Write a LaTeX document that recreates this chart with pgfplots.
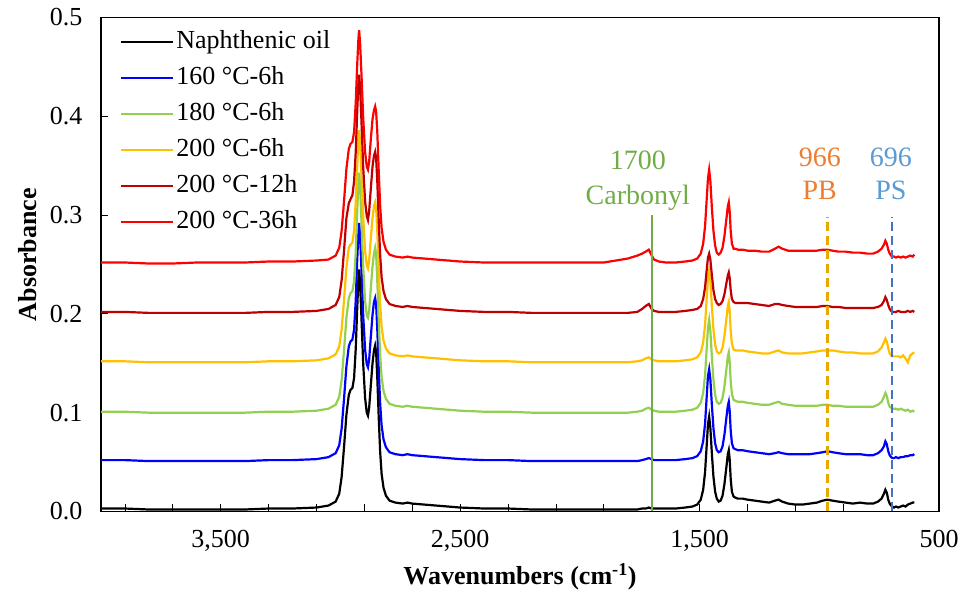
\documentclass[border=0pt]{standalone}
\usepackage{fontspec}
\setmainfont{Liberation Serif}
\usepackage{pgfplots}
\usepackage{pgfplotstable}
\pgfplotsset{compat=1.18}
\definecolor{cgreen}{HTML}{70AD47}
\definecolor{lgreen}{HTML}{92D050}
\definecolor{gold}{HTML}{FFC000}
\definecolor{dred}{HTML}{C00000}
\definecolor{pbline}{RGB}{232,168,0}
\definecolor{pbtext}{HTML}{ED7D31}
\definecolor{psline}{HTML}{4472C4}
\definecolor{pstext}{HTML}{5B9BD5}
\pgfplotstableread{
w k b g y d r
4000 0.003 0.052 0.101 0.152 0.202 0.252
3900 0.003 0.052 0.101 0.152 0.202 0.252
3800 0.002 0.051 0.100 0.151 0.201 0.251
3700 0.002 0.051 0.100 0.151 0.201 0.251
3600 0.002 0.051 0.100 0.151 0.201 0.252
3500 0.002 0.051 0.100 0.151 0.201 0.252
3400 0.002 0.051 0.100 0.151 0.201 0.252
3300 0.003 0.052 0.101 0.152 0.202 0.253
3200 0.003 0.052 0.101 0.152 0.202 0.253
3100 0.004 0.053 0.102 0.153 0.203 0.254
3050 0.006 0.055 0.104 0.155 0.205 0.255
3020 0.010 0.059 0.108 0.159 0.209 0.259
3005 0.018 0.067 0.116 0.167 0.217 0.267
2995 0.035 0.084 0.133 0.184 0.234 0.284
2985 0.065 0.114 0.163 0.214 0.264 0.314
2975 0.098 0.147 0.196 0.247 0.297 0.347
2965 0.118 0.167 0.216 0.267 0.312 0.367
2958 0.123 0.172 0.221 0.270 0.316 0.372
2950 0.125 0.174 0.223 0.272 0.320 0.374
2943 0.135 0.184 0.233 0.284 0.334 0.384
2936 0.165 0.214 0.263 0.314 0.364 0.414
2930 0.205 0.254 0.303 0.348 0.404 0.452
2925 0.235 0.282 0.333 0.378 0.434 0.478
2922 0.245 0.292 0.343 0.386 0.442 0.487
2918 0.232 0.280 0.330 0.374 0.430 0.475
2912 0.195 0.244 0.293 0.340 0.394 0.442
2905 0.150 0.199 0.248 0.299 0.349 0.399
2897 0.115 0.164 0.213 0.264 0.314 0.364
2890 0.100 0.149 0.198 0.249 0.299 0.349
2885 0.097 0.146 0.196 0.246 0.295 0.346
2880 0.105 0.154 0.203 0.254 0.304 0.354
2873 0.128 0.177 0.226 0.277 0.327 0.377
2866 0.150 0.199 0.248 0.297 0.349 0.397
2860 0.163 0.212 0.261 0.309 0.360 0.406
2855 0.168 0.216 0.267 0.313 0.364 0.410
2851 0.162 0.210 0.261 0.307 0.358 0.405
2846 0.135 0.184 0.233 0.284 0.334 0.384
2840 0.095 0.144 0.193 0.244 0.294 0.344
2834 0.060 0.109 0.158 0.209 0.259 0.309
2828 0.038 0.087 0.136 0.187 0.237 0.287
2820 0.024 0.073 0.122 0.173 0.223 0.273
2810 0.016 0.065 0.114 0.165 0.215 0.265
2795 0.011 0.060 0.109 0.160 0.210 0.260
2770 0.009 0.058 0.107 0.158 0.208 0.258
2740 0.008 0.057 0.106 0.157 0.207 0.257
2720 0.009 0.058 0.107 0.158 0.208 0.258
2700 0.008 0.057 0.106 0.157 0.207 0.257
2650 0.007 0.056 0.105 0.156 0.206 0.256
2600 0.006 0.055 0.104 0.155 0.205 0.255
2500 0.004 0.053 0.102 0.153 0.203 0.253
2400 0.003 0.052 0.101 0.152 0.202 0.252
2300 0.003 0.052 0.101 0.152 0.202 0.252
2200 0.002 0.051 0.100 0.151 0.201 0.252
2100 0.002 0.051 0.100 0.151 0.201 0.252
2000 0.002 0.051 0.100 0.151 0.201 0.252
1900 0.002 0.051 0.100 0.151 0.201 0.252
1850 0.002 0.051 0.100 0.151 0.201 0.254
1800 0.002 0.051 0.100 0.151 0.201 0.256
1760 0.002 0.051 0.101 0.152 0.202 0.259
1740 0.003 0.052 0.102 0.153 0.205 0.261
1725 0.003 0.053 0.104 0.155 0.208 0.263
1712 0.004 0.054 0.105 0.156 0.210 0.265
1700 0.003 0.053 0.103 0.154 0.205 0.259
1690 0.003 0.052 0.102 0.153 0.203 0.255
1670 0.003 0.052 0.101 0.152 0.202 0.253
1640 0.003 0.052 0.101 0.152 0.202 0.252
1600 0.003 0.052 0.101 0.152 0.202 0.252
1560 0.004 0.053 0.102 0.153 0.203 0.253
1530 0.005 0.054 0.103 0.154 0.204 0.254
1510 0.007 0.056 0.105 0.156 0.205 0.256
1495 0.012 0.061 0.110 0.161 0.208 0.261
1485 0.022 0.071 0.120 0.171 0.215 0.271
1477 0.040 0.089 0.138 0.189 0.227 0.289
1470 0.068 0.117 0.166 0.217 0.245 0.317
1465 0.088 0.137 0.186 0.237 0.257 0.337
1460 0.096 0.144 0.194 0.244 0.261 0.346
1455 0.085 0.134 0.183 0.234 0.255 0.335
1449 0.060 0.109 0.158 0.209 0.240 0.309
1442 0.035 0.084 0.133 0.184 0.224 0.284
1435 0.020 0.069 0.118 0.169 0.215 0.269
1428 0.013 0.062 0.111 0.162 0.211 0.262
1420 0.010 0.060 0.109 0.160 0.209 0.260
1412 0.011 0.061 0.110 0.161 0.210 0.262
1404 0.016 0.066 0.115 0.166 0.213 0.267
1396 0.028 0.078 0.127 0.178 0.220 0.279
1388 0.045 0.095 0.144 0.195 0.231 0.296
1382 0.058 0.107 0.157 0.208 0.239 0.309
1378 0.062 0.111 0.161 0.212 0.242 0.313
1374 0.052 0.101 0.151 0.202 0.236 0.303
1370 0.033 0.082 0.132 0.183 0.224 0.284
1365 0.020 0.069 0.119 0.170 0.215 0.271
1358 0.015 0.064 0.113 0.164 0.212 0.266
1350 0.014 0.063 0.112 0.163 0.211 0.266
1340 0.013 0.062 0.111 0.163 0.211 0.265
1320 0.013 0.062 0.111 0.163 0.211 0.265
1300 0.012 0.061 0.110 0.162 0.211 0.264
1270 0.011 0.060 0.109 0.161 0.210 0.264
1240 0.010 0.059 0.108 0.160 0.209 0.263
1210 0.009 0.058 0.108 0.160 0.208 0.263
1185 0.011 0.059 0.110 0.162 0.210 0.266
1170 0.012 0.060 0.111 0.163 0.210 0.268
1155 0.010 0.059 0.109 0.161 0.209 0.266
1130 0.008 0.058 0.108 0.160 0.208 0.264
1100 0.007 0.058 0.107 0.160 0.207 0.264
1070 0.007 0.058 0.107 0.160 0.207 0.264
1040 0.008 0.058 0.107 0.161 0.207 0.264
1010 0.009 0.059 0.107 0.162 0.207 0.264
985 0.011 0.060 0.108 0.163 0.208 0.265
966 0.012 0.061 0.108 0.163 0.208 0.265
945 0.011 0.060 0.107 0.163 0.207 0.264
920 0.010 0.059 0.107 0.162 0.207 0.263
890 0.009 0.058 0.106 0.161 0.206 0.263
860 0.008 0.058 0.106 0.161 0.206 0.262
830 0.009 0.058 0.106 0.160 0.206 0.262
800 0.008 0.057 0.106 0.160 0.206 0.261
775 0.008 0.057 0.106 0.160 0.206 0.261
755 0.010 0.059 0.108 0.162 0.207 0.263
740 0.013 0.062 0.111 0.166 0.209 0.266
730 0.018 0.066 0.116 0.171 0.213 0.270
724 0.022 0.071 0.120 0.175 0.217 0.274
718 0.019 0.068 0.117 0.172 0.214 0.271
712 0.012 0.061 0.110 0.165 0.209 0.265
706 0.008 0.057 0.106 0.160 0.205 0.261
700 0.006 0.055 0.105 0.158 0.203 0.259
694 0.005 0.054 0.104 0.157 0.202 0.258
688 0.004 0.054 0.104 0.157 0.202 0.258
680 0.005 0.055 0.104 0.157 0.202 0.257
670 0.004 0.054 0.103 0.157 0.203 0.258
660 0.005 0.055 0.104 0.156 0.202 0.257
650 0.006 0.055 0.103 0.158 0.202 0.258
640 0.005 0.056 0.102 0.155 0.202 0.257
630 0.007 0.056 0.103 0.151 0.203 0.258
620 0.008 0.057 0.101 0.158 0.202 0.259
610 0.009 0.057 0.102 0.160 0.203 0.258
603 0.009 0.058 0.101 0.161 0.202 0.260
}\spectra
\begin{document}
\begin{tikzpicture}
\begin{axis}[
  scale only axis, width=838pt, height=494pt,
  xmin=500, xmax=4000, ymin=0, ymax=0.5, x dir=reverse,
  clip=false,
  xtick={500,1500,2500,3500},
  minor xtick={700,900,1100,1300,1700,1900,2100,2300,2700,2900,3100,3300,3700,3900},
  ytick={0,0.1,0.2,0.3,0.4,0.5},
  scaled x ticks=false, scaled y ticks=false,
  tick align=inside, major tick length=7pt, minor tick length=7pt,
  xtick pos=bottom, ytick pos=left,
  tick style={black, line width=0.8pt},
  axis line style={line width=1.2pt},
  /pgf/number format/assume math mode=true,
  tick label style={font=\fontsize{26}{30}\selectfont},
  xticklabel style={/pgf/number format/1000 sep={,}, yshift=-15pt},
  yticklabel style={/pgf/number format/fixed, /pgf/number format/fixed zerofill, /pgf/number format/precision=1, xshift=-15pt},
  xlabel={Wavenumbers (cm\textsuperscript{-1})},
  ylabel={Absorbance},
  label style={font=\fontsize{26}{30}\selectfont\bfseries},
  xlabel style={at={(axis description cs:0.5,-0.1326)}, anchor=center},
  ylabel style={at={(axis description cs:-0.0871,0.52)}, anchor=center},
  legend cell align=left,
  legend style={draw=none, fill=none, at={(axis description cs:0.0227,0.979)}, anchor=north west, inner sep=0pt, row sep=8pt, font=\fontsize{26}{30}\selectfont, nodes={inner sep=2pt, text height=18pt, text depth=6pt}},
  legend image code/.code={\draw[#1,line width=2.2pt] (0pt,0pt) -- (52pt,0pt);},
]
\addplot[black, line width=2.2pt] table[x=w,y=k]{\spectra};
\addlegendentry{Naphthenic oil}
\addplot[blue, line width=2.2pt] table[x=w,y=b]{\spectra};
\addlegendentry{160 °C-6h}
\addplot[lgreen, line width=2.2pt] table[x=w,y=g]{\spectra};
\addlegendentry{180 °C-6h}
\addplot[gold, line width=2.2pt] table[x=w,y=y]{\spectra};
\addlegendentry{200 °C-6h}
\addplot[dred, line width=2.2pt] table[x=w,y=d]{\spectra};
\addlegendentry{200 °C-12h}
\addplot[red, line width=2.2pt] table[x=w,y=r]{\spectra};
\addlegendentry{200 °C-36h}
\addplot[forget plot, cgreen, line width=1.8pt] coordinates {(1700,0) (1700,0.300)};
\addplot[forget plot, pbline, line width=2.2pt, dash pattern=on 9pt off 5pt] coordinates {(966,0) (966,0.298)};
\addplot[forget plot, psline, line width=2.2pt, dash pattern=on 9pt off 5pt] coordinates {(696,0) (696,0.298)};
\node[text=cgreen, font=\fontsize{28}{35}\selectfont, align=center] at (axis cs:1758,0.335) {1700\\Carbonyl};
\node[text=pbtext, font=\fontsize{28}{33}\selectfont, align=center] at (axis cs:998,0.342) {966\\PB};
\node[text=pstext, font=\fontsize{28}{33}\selectfont, align=center] at (axis cs:701,0.342) {696\\PS};
\coordinate (bl) at (axis cs:4421.9,-0.0896);
\coordinate (tr) at (axis cs:395.6,0.5177);
\end{axis}
\pgfresetboundingbox
\useasboundingbox (bl) rectangle (tr);
\end{tikzpicture}
\end{document}
